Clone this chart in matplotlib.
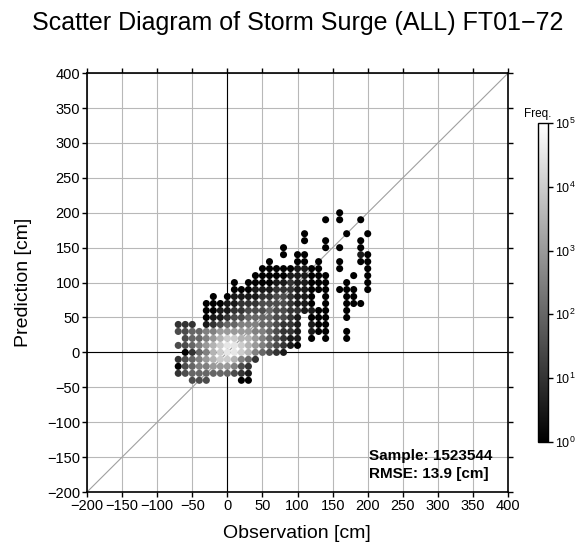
import numpy as np
import matplotlib
matplotlib.use('Agg')
import matplotlib.pyplot as plt
from matplotlib.colors import LogNorm

plt.rcParams['font.family'] = ['Liberation Sans', 'DejaVu Sans']

title = 'Scatter Diagram of Storm Surge (ALL) FT01\u221272'
n_sample = 1523544
rmse = 13.9

# one row per prediction bin (10 cm); row_obs0 = first observation bin,
# each char = one 10 cm obs bin, digit = 2*log10(freq), '.' = empty
row_pred = [200, 190, 170, 160, 150, 140, 130, 120, 110, 100, 90, 80,
            70, 60, 50, 40, 30, 20, 10, 0, -10, -20, -30, -40]
row_obs0 = [160, 140, 110, 110, 80, 80, 60, 50, 40, 10, 10, -20,
            -30, -30, -30, -70, -70, -60, -70, -60, -70, -70, -70, -50]
row_code = [
    '0',
    '0.0..0',
    '0.....0..0',
    '0..0....0',
    '0.....0.0..0',
    '0.00.......10',
    '0...00.0..0..00',
    '000001100..0...0',
    '00000111000...0.0',
    '0.000011211000..0..0',
    '00011122211000.000.0',
    '0.0111122332110.0..00',
    '0001122233332110.0..000',
    '001122333433221100..0',
    '01123344443321.000..0',
    '222.12344555443221.100',
    '334455666665543221.100..0',
    '34456788776543211.0.0..0',
    '334567899876543210',
    '024578998754321',
    '234567887542',
    '03455666532',
    '23444444321',
    '333....00',
]

obs, pred, freq = [], [], []
for y, x0, code in zip(row_pred, row_obs0, row_code):
    for i, c in enumerate(code):
        if c != '.':
            obs.append(x0 + 10 * i)
            pred.append(y)
            freq.append(10 ** (int(c) / 2))
obs = np.array(obs)
pred = np.array(pred)
freq = np.array(freq)

fig = plt.figure(figsize=(5.84, 5.49), dpi=100)
ax = fig.add_axes([0.149, 0.1038, 0.721, 0.763])

ax.set_xlim(-200, 400)
ax.set_ylim(-200, 400)
ax.set_xticks(np.arange(-200, 401, 50))
ax.set_yticks(np.arange(-200, 401, 50))
ax.grid(True, color='#b8b8b8', lw=0.8, zorder=0)
ax.set_axisbelow(True)
ax.axhline(0, color='black', lw=0.8, zorder=1)
ax.axvline(0, color='black', lw=0.8, zorder=1)
ax.plot([-200, 400], [-200, 400], color='#a0a0a0', lw=0.8, zorder=1)

sc = ax.scatter(obs, pred, c=freq, cmap='gray', norm=LogNorm(1, 1e5),
                s=26, linewidths=0, zorder=3)

for sp in ax.spines.values():
    sp.set_linewidth(1.2)
ax.tick_params(direction='out', length=3.5, width=1, pad=1.5,
               top=True, right=True, labelsize=10.5)

ax.text(0.67, 0.076, 'Sample: %d' % n_sample, transform=ax.transAxes,
        fontsize=11, fontweight='bold', va='baseline', zorder=5)
ax.text(0.67, 0.033, 'RMSE: %.1f [cm]' % rmse, transform=ax.transAxes,
        fontsize=11, fontweight='bold', va='baseline', zorder=5)

fig.text(0.509, 0.945, title, ha='center', va='baseline', fontsize=18)
fig.text(0.509, 0.02, 'Observation [cm]', ha='center', va='baseline', fontsize=14)
fig.text(0.04, 0.486, 'Prediction [cm]', ha='center', va='center',
         rotation=90, fontsize=14)

cax = fig.add_axes([0.921, 0.195, 0.017, 0.581])
cb = fig.colorbar(sc, cax=cax)
cb.set_ticks([1, 10, 100, 1e3, 1e4, 1e5])
cb.ax.minorticks_off()
cb.ax.tick_params(direction='out', length=3.5, width=1, labelsize=9, pad=1.5)
cb.outline.set_linewidth(1)
fig.text(0.92, 0.787, 'Freq.', ha='center', va='baseline', fontsize=8.5)

fig.savefig('out.png', dpi=100)
